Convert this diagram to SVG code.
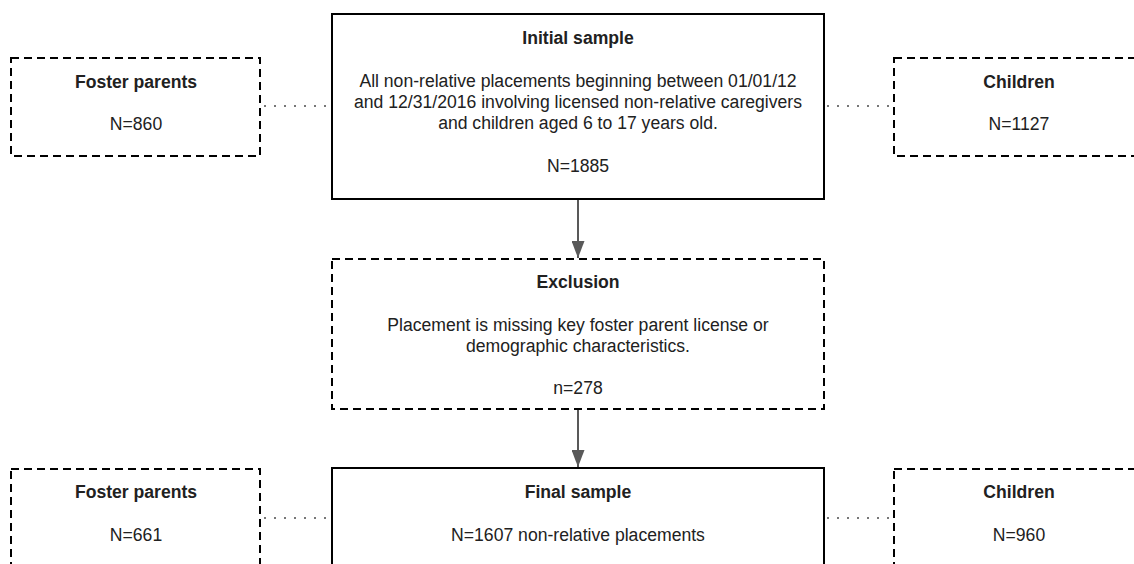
<svg xmlns="http://www.w3.org/2000/svg" width="1134" height="564" viewBox="0 0 1134 564">
<defs>
<style>
.solid{fill:#fff;stroke:#000;stroke-width:2}
.dash{fill:#fff;stroke:#000;stroke-width:2;stroke-dasharray:8 5}
.t{font-family:"Liberation Sans",Arial,sans-serif;font-size:17.6px;fill:#212121;text-anchor:middle}
.b{font-weight:bold}
.dot{stroke:#777;stroke-width:2;stroke-dasharray:2 8;fill:none}
.arr{stroke:#595959;stroke-width:2;fill:none}
</style>
<marker id="ah" viewBox="0 0 10 10" refX="10" refY="5" markerWidth="8.5" markerHeight="6.5" markerUnits="strokeWidth" orient="auto" preserveAspectRatio="none">
<path d="M0,0 L10,5 L0,10 z" fill="#595959"/>
</marker>
</defs>
<rect width="1134" height="564" fill="#fff"/>
<g id="connectors">
<line class="dot" x1="264" y1="106" x2="331" y2="106"/>
<line class="dot" x1="827" y1="106" x2="892" y2="106"/>
<line class="dot" x1="264" y1="518" x2="331" y2="518"/>
<line class="dot" x1="827" y1="518" x2="892" y2="518"/>
<line class="arr" x1="578" y1="200" x2="578" y2="258" marker-end="url(#ah)"/>
<line class="arr" x1="578" y1="410" x2="578" y2="467" marker-end="url(#ah)"/>
</g>
<g id="foster-top">
<rect class="dash" x="11" y="58" width="249" height="98"/>
<text class="t b" x="136" y="88">Foster parents</text>
<text class="t" x="136" y="130">N=860</text>
</g>
<g id="initial">
<rect class="solid" x="332" y="14" width="492" height="185"/>
<text class="t b" x="578" y="44">Initial sample</text>
<text class="t" x="578" y="87">All non-relative placements beginning between 01/01/12</text>
<text class="t" x="578" y="108">and 12/31/2016 involving licensed non-relative caregivers</text>
<text class="t" x="578" y="129">and children aged 6 to 17 years old.</text>
<text class="t" x="578" y="172">N=1885</text>
</g>
<g id="children-top">
<rect class="dash" x="894" y="58" width="249" height="98"/>
<text class="t b" x="1019" y="88">Children</text>
<text class="t" x="1019" y="130">N=1127</text>
</g>
<g id="exclusion">
<rect class="dash" x="332" y="259" width="492" height="150"/>
<text class="t b" x="578" y="288">Exclusion</text>
<text class="t" x="578" y="331">Placement is missing key foster parent license or</text>
<text class="t" x="578" y="352">demographic characteristics.</text>
<text class="t" x="578" y="394">n=278</text>
</g>
<g id="foster-bottom">
<rect class="dash" x="11" y="469" width="249" height="120"/>
<text class="t b" x="136" y="498">Foster parents</text>
<text class="t" x="136" y="541">N=661</text>
</g>
<g id="final">
<rect class="solid" x="332" y="468" width="492" height="120"/>
<text class="t b" x="578" y="498">Final sample</text>
<text class="t" x="578" y="541">N=1607 non-relative placements</text>
</g>
<g id="children-bottom">
<rect class="dash" x="894" y="469" width="249" height="120"/>
<text class="t b" x="1019" y="498">Children</text>
<text class="t" x="1019" y="541">N=960</text>
</g>
</svg>
